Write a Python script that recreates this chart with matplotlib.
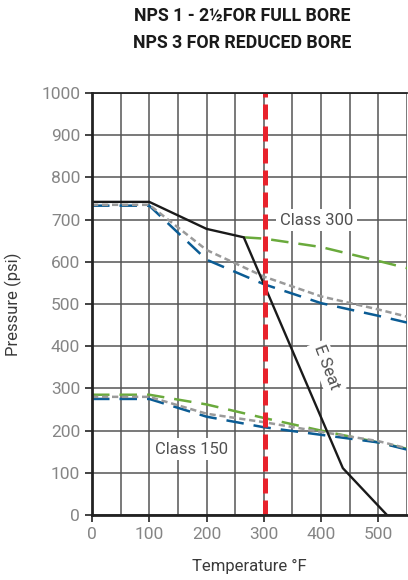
import matplotlib
matplotlib.use("Agg")
import matplotlib.pyplot as plt

plt.rcParams['font.family'] = ['Roboto', 'DejaVu Sans']

# E seat limit (black)
seat_t = [0, 100, 200, 265, 438, 515]
seat_p = [742, 742, 678, 658, 111, 0]

# class 300 curves
c300_green_t = [265, 300, 400, 500, 550]
c300_green_p = [658, 655, 635, 602, 585]
c300_blue_t = [0, 100, 200, 300, 400, 500, 550]
c300_blue_p = [733, 733, 605, 547, 502, 472, 456]
c300_grey_t = [0, 100, 200, 300, 400, 500, 550]
c300_grey_p = [735, 735, 628, 565, 518, 487, 470]

# class 150 curves
c150_green_t = [0, 100, 200, 300, 400, 500, 550]
c150_green_p = [285, 285, 262, 230, 200, 172, 157]
c150_blue_t = [0, 100, 200, 300, 400, 500, 550]
c150_blue_p = [275, 275, 233, 208, 190, 172, 155]
c150_grey_t = [0, 100, 200, 300, 400, 500, 550]
c150_grey_p = [280, 280, 240, 220, 197, 175, 158]

limit_t = 302

fig = plt.figure(figsize=(4.08, 5.8), dpi=100)
ax = fig.add_axes([92/408, 65/580, 315/408, 422/580])

ax.set_xlim(0, 550)
ax.set_ylim(0, 1000)
ax.set_xticks(range(0, 501, 100))
ax.set_xticks(range(0, 551, 50), minor=True)
ax.set_yticks(range(0, 1001, 100))
ax.grid(True, which='both', axis='x', color='#555555', lw=1.1)
ax.grid(True, which='major', axis='y', color='#555555', lw=1.1)
ax.set_axisbelow(True)
ax.tick_params(which='minor', length=0)
ax.tick_params(which='major', length=5, width=1.2, color='#222222',
               labelcolor='#858585', labelsize=12.5)
for s in ['left', 'bottom', 'top']:
    ax.spines[s].set_linewidth(2)
    ax.spines[s].set_color('#222222')
ax.spines['top'].set_linewidth(1.3)
ax.spines['right'].set_visible(False)

blue = '#0b5c94'
green = '#6aaa3c'
grey = '#9a9a9a'

ax.plot(c300_green_t, c300_green_p, color=green, lw=1.8, dashes=(7, 4))
ax.plot(c300_blue_t, c300_blue_p, color=blue, lw=1.8, dashes=(7, 4))
ax.plot(c300_grey_t, c300_grey_p, color=grey, lw=1.8, dashes=(2.5, 1.5))
ax.plot(c150_green_t, c150_green_p, color=green, lw=1.8, dashes=(7, 4))
ax.plot(c150_blue_t, c150_blue_p, color=blue, lw=1.8, dashes=(7, 4))
ax.plot(c150_grey_t, c150_grey_p, color=grey, lw=1.8, dashes=(2.5, 1.5))
ax.plot(seat_t, seat_p, color='#1a1a1a', lw=1.7)
ax.axvline(limit_t, color='#e8222c', lw=3.6, dashes=(3.0, 1.4))

box = dict(facecolor='white', edgecolor='none', pad=2.5)
ax.text(392, 699, 'Class 300', ha='center', va='center', fontsize=12,
        color='#505050', bbox=box)
ax.text(173, 156, 'Class 150', ha='center', va='center', fontsize=12,
        color='#505050', bbox=box)
ax.text(410, 350, 'E Seat', ha='center', va='center', fontsize=12,
        color='#505050', rotation=-69, bbox=box)

ax.set_xlabel('Temperature °F', fontsize=12, color='#3a3a3a', labelpad=12)
ax.set_ylabel('Pressure (psi)', fontsize=12, color='#3a3a3a', labelpad=14)

fig.text(0.594, 0.972, 'NPS 1 - 2½FOR FULL BORE', ha='center', va='center',
         fontsize=12.8, fontweight='bold', color='#1a1a1a')
fig.text(0.594, 0.926, 'NPS 3 FOR REDUCED BORE', ha='center', va='center',
         fontsize=12.8, fontweight='bold', color='#1a1a1a')

fig.savefig('out.png', dpi=100)
